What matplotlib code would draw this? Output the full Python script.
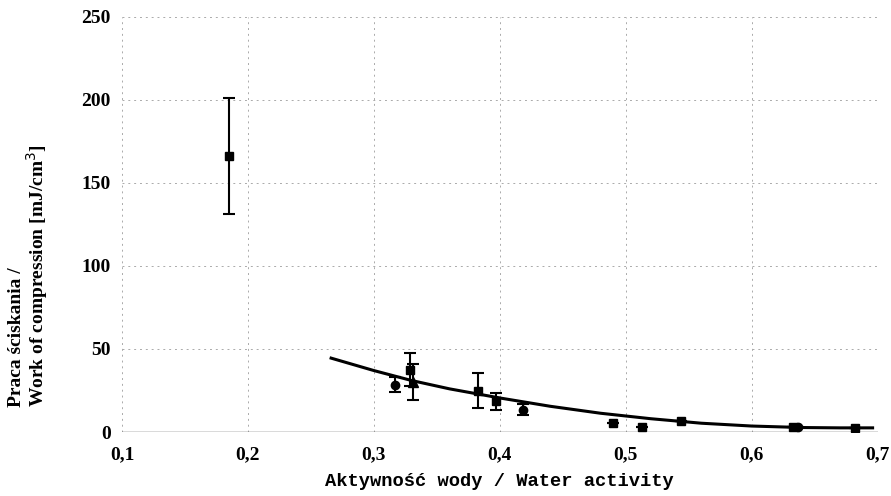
import numpy as np
import matplotlib
matplotlib.use('Agg')
import matplotlib.pyplot as plt

# dane
aw_sq = [0.185, 0.329, 0.383, 0.397, 0.490, 0.513, 0.544, 0.633, 0.682]
w_sq = [166, 37.5, 25, 18.5, 5.5, 3.0, 6.8, 3.0, 2.5]
err_sq = [35, 10, 10.5, 5, 0, 0, 0, 0, 0]

aw_ci = [0.317, 0.418, 0.637]
w_ci = [28.5, 13.5, 2.8]
err_ci = [4.5, 3.2, 0]

aw_tr = [0.331]
w_tr = [30]
err_tr = [11]

# linia trendu
fit_x = [0.266, 0.30, 0.33, 0.36, 0.40, 0.44, 0.48, 0.52, 0.56, 0.60, 0.64, 0.67, 0.696]
fit_y = [44.5, 37.0, 31.0, 26.0, 20.5, 15.5, 11.3, 8.0, 5.3, 3.6, 2.7, 2.5, 2.5]

xticks = [0.1, 0.2, 0.3, 0.4, 0.5, 0.6, 0.7]
yticks = [0, 50, 100, 150, 200, 250]

serif = 'Liberation Serif'

fig = plt.figure(figsize=(8.91, 4.96), dpi=100)
ax = fig.add_axes([0.137, 0.129, 0.848, 0.837])

ax.plot(fit_x, fit_y, color='black', lw=2.2, zorder=3)

ax.errorbar(aw_sq, w_sq, yerr=err_sq, fmt='s', color='black', ms=5.5,
            capsize=4, elinewidth=1.5, capthick=1.5, zorder=4)
ax.errorbar(aw_ci, w_ci, yerr=err_ci, fmt='o', color='black', ms=6,
            capsize=4, elinewidth=1.5, capthick=1.5, zorder=4)
ax.errorbar(aw_tr, w_tr, yerr=err_tr, fmt='^', color='black', ms=6.5,
            capsize=4, elinewidth=1.5, capthick=1.5, zorder=4)

ax.set_xlim(0.1, 0.7)
ax.set_ylim(0, 250)
ax.set_xticks(xticks)
ax.set_yticks(yticks)
ax.set_xticklabels([f'{t:.1f}'.replace('.', ',') for t in xticks],
                   fontfamily=serif, fontweight='bold', fontsize=14)
ax.set_yticklabels([str(t) for t in yticks],
                   fontfamily=serif, fontweight='bold', fontsize=14)
ax.tick_params(length=0)
ax.tick_params(axis='y', pad=8)
ax.tick_params(axis='x', pad=10)

for s in ax.spines.values():
    s.set_visible(False)
ax.axhline(0, color='#444444', lw=1, zorder=2)
ax.grid(True, color='#aaaaaa', ls=(0, (2, 4)), lw=0.7)
ax.set_axisbelow(True)

ax.set_xlabel('Aktywność wody / Water activity', fontfamily='Liberation Mono',
              fontweight='bold', fontsize=13.5, labelpad=7)
ax.set_ylabel('Praca ściskania /\nWork of compression [mJ/cm$^3$]',
              fontfamily=serif, fontweight='bold', fontsize=14,
              multialignment='left', linespacing=0.95)
ax.yaxis.set_label_coords(-0.096, 0.376)

fig.savefig('out.png', dpi=100)
